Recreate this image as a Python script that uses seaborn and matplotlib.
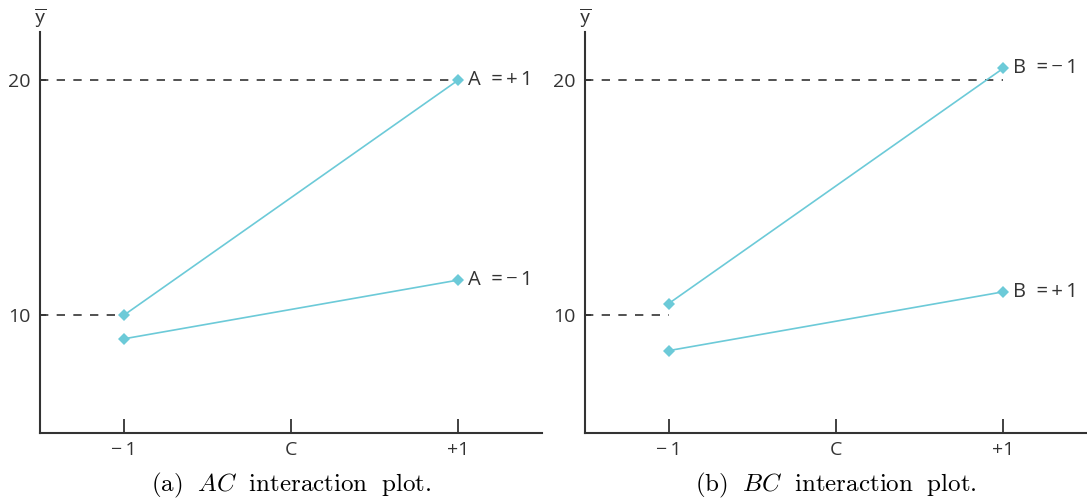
import matplotlib
matplotlib.use("Agg")
import matplotlib.pyplot as plt
import seaborn as sns
import pandas as pd

# --- dados ---
c_levels = [-1, 1]
ac_a_plus = [10.0, 20.0]    # A = +1
ac_a_minus = [9.0, 11.5]    # A = -1
bc_b_minus = [10.5, 20.5]   # B = -1
bc_b_plus = [8.5, 11.0]     # B = +1

x_ticks = [-1, 0, 1]
x_tick_labels = ["\u2212\u20091", "C", "+1"]
y_ticks = [10, 20]

# linhas tracejadas de referência: (y, x_fim)
ac_refs = [(20, 1), (10, -1)]
bc_refs = [(20, 1), (10, -1)]

TS = "\u2009"
panels = [
    dict(series={f"A  ={TS}+{TS}1": ac_a_plus, f"A  ={TS}\u2212{TS}1": ac_a_minus}, refs=ac_refs,
         caption=r"$\mathrm{(a)}\ \ AC\ \ \mathrm{interaction\ \ plot.}$"),
    dict(series={f"B  ={TS}\u2212{TS}1": bc_b_minus, f"B  ={TS}+{TS}1": bc_b_plus}, refs=bc_refs,
         caption=r"$\mathrm{(b)}\ \ BC\ \ \mathrm{interaction\ \ plot.}$"),
]

LINE = "#6ccad8"
DARK = "#333333"

sns.set_theme(style="white")
plt.rcParams["font.family"] = ["Open Sans", "DejaVu Sans"]
plt.rcParams["mathtext.fontset"] = "cm"

fig = plt.figure(figsize=(10.87, 4.98), dpi=100)
axes = [fig.add_axes([40 / 1087, 65 / 498, 502 / 1087, 401 / 498]),
        fig.add_axes([585 / 1087, 65 / 498, 502 / 1087, 401 / 498])]

for ax, p in zip(axes, panels):
    rows = []
    for name, vals in p["series"].items():
        for c, v in zip(c_levels, vals):
            rows.append({"C": c, "ybar": v, "nivel": name})
    df = pd.DataFrame(rows)

    xmin, xmax = -1.5, 1.5
    for y, xend in p["refs"]:
        ax.plot([xmin, xend], [y, y], color=DARK, lw=1.2, ls=(0, (5, 5)), zorder=1)

    sns.lineplot(data=df, x="C", y="ybar", hue="nivel",
                 palette=[LINE] * len(p["series"]), marker="D", markersize=6.5,
                 markeredgewidth=0, linewidth=1.2, legend=False, ax=ax, zorder=3)

    for name, vals in p["series"].items():
        ax.text(c_levels[-1] + 0.06, vals[-1], name, va="center", ha="left",
                fontsize=14.5, color=DARK)

    ax.set_xlim(xmin, xmax)
    ax.set_ylim(5, 22.04)
    ax.set_xticks(x_ticks)
    ax.set_xticklabels(x_tick_labels)
    ax.set_yticks(y_ticks)
    ax.set_xlabel("")
    ax.set_ylabel("")
    ax.tick_params(axis="x", direction="in", length=10, width=1.3, color=DARK,
                   labelsize=14, labelcolor=DARK, pad=6, bottom=True)
    ax.tick_params(axis="y", direction="in", length=4, width=1.3, color=DARK,
                   labelsize=14, labelcolor=DARK, pad=7, left=True)
    sns.despine(ax=ax)
    for s in ("left", "bottom"):
        ax.spines[s].set_linewidth(1.5)
        ax.spines[s].set_color(DARK)
    ax.patch.set_alpha(0)

    ax.text(0, 1.005, r"$\overline{\mathsf{y}}$", transform=ax.transAxes,
            ha="center", va="bottom", fontsize=16, color=DARK)
    ax.text(0.5, -0.13, p["caption"], transform=ax.transAxes,
            ha="center", va="center", fontsize=18, color="black")

fig.savefig("out.png", dpi=100, facecolor="white")
